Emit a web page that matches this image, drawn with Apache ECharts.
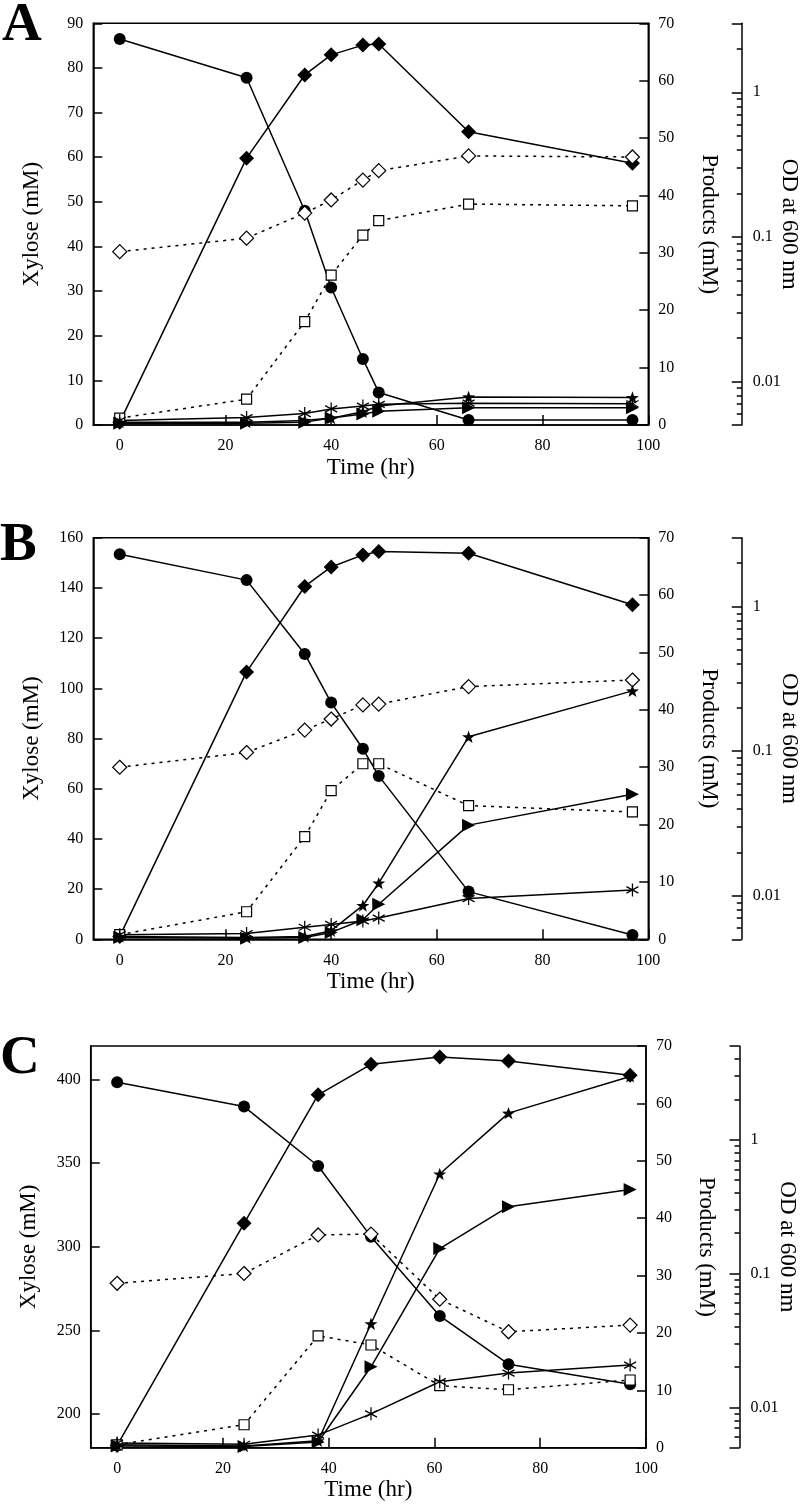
<!DOCTYPE html>
<html><head><meta charset="utf-8">
<script src="https://cdn.jsdelivr.net/npm/echarts@6/dist/echarts.min.js"></script>
<style>html,body{margin:0;padding:0;background:#fff}#c{width:800px;height:1505px}</style>
</head><body><div id="c"></div>
<script>
// ---------------- DATA ----------------
// Panel A
const timeA = [0, 24, 35, 40, 46, 49, 66, 97];
const xyloseA = [86.5, 77.8, 48.0, 30.8, 14.8, 7.3, 1.1, 1.1];
const diamondA = [0.5, 46.5, 61.0, 64.5, 66.2, 66.4, 51.1, 45.6];
const squareA = [1.2, 4.5, 18.0, 26.1, 33.1, 35.6, 38.5, 38.2];
const odA = [0.079, 0.098, 0.146, 0.18, 0.247, 0.287, 0.363, 0.357];
const starA = [0.5, 0.5, 0.8, 1.2, 2.3, 3.3, 4.9, 4.8];
const triangleA = [0.3, 0.3, 0.5, 1.2, 1.9, 2.4, 3.0, 3.0];
const asteriskA = [0.8, 1.3, 2.0, 2.8, 3.3, 3.6, 3.8, 3.7];
// Panel B
const timeB = [0, 24, 35, 40, 46, 49, 66, 97];
const xyloseB = [153.4, 143.1, 113.7, 94.3, 75.9, 65.1, 19.0, 1.7];
const diamondB = [0.5, 46.6, 61.5, 64.9, 67.0, 67.6, 67.3, 58.3];
const squareB = [0.8, 4.8, 17.9, 25.9, 30.6, 30.6, 23.3, 22.2];
const odB = [0.0775, 0.098, 0.14, 0.167, 0.209, 0.212, 0.28, 0.311];
const starB = [0.5, 0.3, 0.5, 1.5, 5.9, 9.8, 35.3, 43.3];
const triangleB = [0.3, 0.2, 0.3, 1.2, 3.4, 6.1, 19.9, 25.3];
const asteriskB = [0.8, 1.0, 2.1, 2.6, 3.2, 3.7, 7.1, 8.6];
// Panel C
const timeC = [0, 24, 38, 48, 61, 74, 97];
const xyloseC = [398.3, 383.8, 348.3, 306.1, 258.7, 229.9, 217.9];
const diamondC = [0.4, 39.1, 61.5, 66.8, 68.1, 67.4, 64.9];
const squareC = [0.5, 4.0, 19.5, 17.9, 10.8, 10.1, 11.8];
const odC = [0.0845, 0.1, 0.194, 0.197, 0.0642, 0.0367, 0.0412];
const starC = [0.5, 0.3, 1.2, 21.6, 47.7, 58.3, 64.7];
const triangleC = [0.3, 0.2, 1.0, 14.1, 34.7, 42.0, 45.0];
const asteriskC = [0.8, 0.6, 2.2, 5.9, 11.5, 13.0, 14.4];

// Tick labels
const timeTicks = [0, 20, 40, 60, 80, 100];
const xyloseTicksC = [200, 250, 300, 350, 400];
const odMajorTicks = [0.01, 0.1, 1];
const odMinorTicksAB = [0.006, 0.007, 0.008, 0.009, 0.02, 0.03, 0.04, 0.05, 0.06, 0.07, 0.08, 0.09,
  0.2, 0.3, 0.4, 0.5, 0.6, 0.7, 0.8, 0.9, 2];
const odMinorTicksC = odMinorTicksAB.concat([3, 4]);

// ---------------- CHART ----------------
const FONT = "'Liberation Serif', 'DejaVu Serif', serif";
const STAR = 'path://M0,-10L2.351,-3.236L9.511,-3.090L3.804,1.236L5.878,8.090L0,4L-5.878,8.090L-3.804,1.236L-9.511,-3.090L-2.351,-3.236Z';
const ASTER = 'path://M0,-10L0,10M-8.66,-5L8.66,5M-8.66,5L8.66,-5';

function pts(t, v) { return t.map((x, i) => [x, v[i]]); }

const panels = [
  { letter: 'A', ly: 21.5, top: 23.3, left: 93.3, width: 555, height: 401.7,
    yMin: 0, yMax: 90, yInterval: 10, yCustom: null, odMax: 3, odMinor: odMinorTicksAB,
    t: timeA, xy: xyloseA, di: diamondA, sq: squareA, od: odA, st: starA, tr: triangleA, as: asteriskA },
  { letter: 'B', ly: 541.7, top: 537.7, left: 93.3, width: 555, height: 401.6,
    yMin: 0, yMax: 160, yInterval: 20, yCustom: null, odMax: 3, odMinor: odMinorTicksAB,
    t: timeB, xy: xyloseB, di: diamondB, sq: squareB, od: odB, st: starB, tr: triangleB, as: asteriskB },
  { letter: 'C', ly: 1054, top: 1046, left: 90.7, width: 555.3, height: 401.7,
    yMin: 180, yMax: 420, yInterval: null, yCustom: xyloseTicksC, odMax: 5, odMinor: odMinorTicksC,
    t: timeC, xy: xyloseC, di: diamondC, sq: squareC, od: odC, st: starC, tr: triangleC, as: asteriskC }
];

const axisLineStyle = { show: true, onZero: false, lineStyle: { color: '#000', width: 1.5 } };
const labelStyle = { color: '#000', fontFamily: FONT, fontSize: 16 };
const nameStyle = { color: '#000', fontFamily: FONT, fontSize: 23 };

const grid = [], xAxis = [], yAxis = [], series = [], graphic = [];

panels.forEach((p, gi) => {
  grid.push({ left: p.left, top: p.top, width: p.width, height: p.height, outerBoundsMode: 'none', containLabel: false,
    show: true, borderColor: '#000', borderWidth: 1.5, backgroundColor: 'transparent' });
  xAxis.push({ gridIndex: gi, type: 'value', min: -5, max: 100, position: 'bottom',
    name: 'Time (hr)', nameLocation: 'middle', nameGap: 31, nameMoveOverlap: false, nameTextStyle: nameStyle,
    axisLine: axisLineStyle,
    axisTick: { inside: true, length: 10, lineStyle: { color: '#000', width: 1.5 }, customValues: timeTicks },
    axisLabel: Object.assign({ margin: 13, customValues: timeTicks }, labelStyle),
    splitLine: { show: false } });
  const yi = yAxis.length;
  const left = { gridIndex: gi, type: 'value', min: p.yMin, max: p.yMax, position: 'left',
    name: 'Xylose (mM)', nameLocation: 'middle', nameRotate: 90, nameGap: 50, nameMoveOverlap: false, nameTextStyle: nameStyle,
    axisLine: axisLineStyle,
    axisTick: { inside: true, length: 9, lineStyle: { color: '#000', width: 1.5 } },
    axisLabel: Object.assign({ margin: 10 }, labelStyle),
    splitLine: { show: false } };
  if (p.yInterval) left.interval = p.yInterval;
  if (p.yCustom) { left.axisTick.customValues = p.yCustom; left.axisLabel.customValues = p.yCustom; }
  yAxis.push(left);
  yAxis.push({ gridIndex: gi, type: 'value', min: 0, max: 70, interval: 10, position: 'right',
    name: 'Products (mM)', nameLocation: 'middle', nameRotate: -90, nameGap: 49, nameMoveOverlap: false, nameTextStyle: nameStyle,
    axisLine: axisLineStyle,
    axisTick: { inside: true, length: 9, lineStyle: { color: '#000', width: 1.5 } },
    axisLabel: Object.assign({ margin: 10 }, labelStyle),
    splitLine: { show: false } });
  yAxis.push({ gridIndex: gi, type: 'log', logBase: 10, min: 0.005, max: p.odMax, position: 'right', offset: 93.5,
    name: 'OD at 600 nm', nameLocation: 'middle', nameRotate: -90, nameGap: 36, nameMoveOverlap: false, nameTextStyle: nameStyle,
    axisLine: axisLineStyle,
    axisTick: { inside: true, length: 10, lineStyle: { color: '#000', width: 1.5 }, customValues: odMajorTicks.concat([0.005, p.odMax]) },
    axisLabel: Object.assign({ margin: 11, customValues: odMajorTicks, formatter: v => String(+v.toPrecision(3)) }, labelStyle),
    splitLine: { show: false } });
  yAxis.push({ gridIndex: gi, type: 'log', logBase: 10, min: 0.005, max: p.odMax, position: 'right', offset: 93.5,
    axisLine: { show: false, onZero: false },
    axisTick: { inside: true, length: 5, lineStyle: { color: '#000', width: 1.5 }, customValues: p.odMinor },
    axisLabel: { show: false },
    splitLine: { show: false } });

  const base = { type: 'line', xAxisIndex: gi, animation: false, z: 3 };
  const solid = { color: '#000', width: 1.5, type: 'solid' };
  const dotted = { color: '#000', width: 1.5, type: [3, 5] };
  series.push(Object.assign({}, base, { yAxisIndex: yi, data: pts(p.t, p.xy), symbol: 'circle', symbolSize: 12,
    lineStyle: solid, itemStyle: { color: '#000' } }));
  series.push(Object.assign({}, base, { yAxisIndex: yi + 1, data: pts(p.t, p.di), symbol: 'diamond', symbolSize: 15,
    lineStyle: solid, itemStyle: { color: '#000' } }));
  series.push(Object.assign({}, base, { yAxisIndex: yi + 1, data: pts(p.t, p.sq), symbol: 'rect', symbolSize: 10,
    lineStyle: dotted, itemStyle: { color: '#fff', borderColor: '#000', borderWidth: 1.2 } }));
  series.push(Object.assign({}, base, { yAxisIndex: yi + 2, data: pts(p.t, p.od), symbol: 'diamond', symbolSize: 14,
    lineStyle: dotted, itemStyle: { color: '#fff', borderColor: '#000', borderWidth: 1.2 } }));
  series.push(Object.assign({}, base, { yAxisIndex: yi + 1, data: pts(p.t, p.as), symbol: ASTER, symbolSize: [12, 13],
    lineStyle: solid, itemStyle: { color: '#000', borderColor: '#000', borderWidth: 1.3 } }));
  series.push(Object.assign({}, base, { yAxisIndex: yi + 1, data: pts(p.t, p.tr), symbol: 'triangle', symbolSize: 13, symbolRotate: -90,
    lineStyle: solid, itemStyle: { color: '#000' } }));
  series.push(Object.assign({}, base, { yAxisIndex: yi + 1, data: pts(p.t, p.st), symbol: STAR, symbolSize: [13, 12.4],
    lineStyle: solid, itemStyle: { color: '#000' } }));

  graphic.push({ type: 'text', left: gi === 0 ? 2 : 0, top: p.ly - 23, z: 10,
    style: { text: p.letter, font: "bold 55px " + FONT, fill: '#000' } });
});

const chart = echarts.init(document.getElementById('c'), null, { renderer: 'canvas' });
chart.setOption({ animation: false, backgroundColor: '#fff', grid, xAxis, yAxis, series, graphic });
</script></body></html>
